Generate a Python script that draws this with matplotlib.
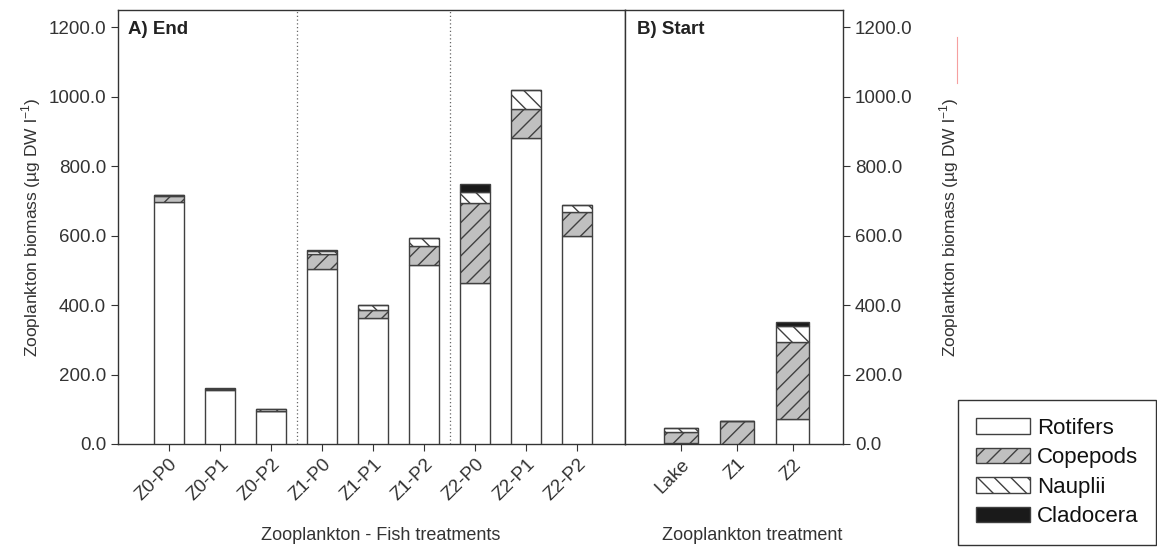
import matplotlib
matplotlib.use("Agg")
import matplotlib.pyplot as plt
from matplotlib.ticker import FormatStrFormatter
from matplotlib.lines import Line2D
import numpy as np

plt.rcParams['font.family'] = ['Liberation Sans', 'DejaVu Sans']
plt.rcParams['mathtext.fontset'] = 'custom'
plt.rcParams['mathtext.rm'] = 'Liberation Sans'
plt.rcParams['hatch.linewidth'] = 1.0

# Panel A: end of experiment
treat_a = ['Z0-P0', 'Z0-P1', 'Z0-P2', 'Z1-P0', 'Z1-P1', 'Z1-P2', 'Z2-P0', 'Z2-P1', 'Z2-P2']
rot_a = [698, 156, 94, 505, 363, 516, 464, 881, 598]
cop_a = [17, 2, 2, 43, 22, 53, 229, 85, 70]
nau_a = [3, 1, 4, 8, 14, 25, 33, 53, 19]
cla_a = [0, 2, 0, 2, 0, 0, 24, 0, 0]

# Panel B: start of experiment
treat_b = ['Lake', 'Z1', 'Z2']
rot_b = [2, 0, 72]
cop_b = [32, 66, 222]
nau_b = [12, 1, 46]
cla_b = [0, 0, 11]

groups = ['Rotifers', 'Copepods', 'Nauplii', 'Cladocera']
fills = ['white', '#c0c0c0', 'white', '#1a1a1a']
hatches = [None, '//', '\\\\', None]
edge = '#404040'
txt = '#333333'

fig = plt.figure(figsize=(11.57, 5.48), dpi=100)
axA = fig.add_axes([118/1157, 1-444/548, (625-118)/1157, 434/548])
axB = fig.add_axes([625/1157, 1-444/548, (843-625)/1157, 434/548])


def stack(ax, data, width):
    x = np.arange(1, len(data[0]) + 1)
    bottom = np.zeros(len(x))
    handles = []
    for vals, fc, h, lab in zip(data, fills, hatches, groups):
        b = ax.bar(x, vals, width, bottom=bottom, color=fc, edgecolor=edge,
                   hatch=h, linewidth=1.0, label=lab, zorder=3)
        bottom += np.array(vals)
        handles.append(b)
    return x, handles


xa, handles = stack(axA, [rot_a, cop_a, nau_a, cla_a], 0.59)
xb, _ = stack(axB, [rot_b, cop_b, nau_b, cla_b], 0.6)

for xs in (3.5, 6.5):
    axA.axvline(xs, color='#666666', linestyle=(0, (1, 2)), linewidth=0.9, zorder=1)

axA.set_xlim(0, 9.94)
axB.set_xlim(0, 3.9)
for ax in (axA, axB):
    ax.set_ylim(0, 1250)
    ax.set_yticks(np.arange(0, 1201, 200))
    ax.yaxis.set_major_formatter(FormatStrFormatter('%.1f'))
    for s in ax.spines.values():
        s.set_color(txt)
        s.set_linewidth(1.0)
    ax.tick_params(direction='out', length=5, color=txt, labelcolor=txt,
                   labelsize=13.5)

axA.set_xticks(xa)
axA.set_xticklabels(treat_a, rotation=45, ha='right', rotation_mode='anchor')
axB.set_xticks(xb)
axB.set_xticklabels(treat_b, rotation=45, ha='right', rotation_mode='anchor')
axA.tick_params(axis='y', right=False)
axB.tick_params(axis='y', left=False, labelleft=False, right=True, labelright=True)

ylab = 'Zooplankton biomass (µg DW l$^{-1}$)'
axA.set_ylabel(ylab, fontsize=12.5, color=txt, labelpad=4)
axB.yaxis.set_label_position('right')
axB.set_ylabel(ylab, fontsize=12.5, color=txt, rotation=90, labelpad=18)

axA.text(0.02, 0.955, 'A) End', transform=axA.transAxes, fontsize=13.5,
         fontweight='bold', color='#222222', va='center')
axB.text(0.055, 0.955, 'B) Start', transform=axB.transAxes, fontsize=13.5,
         fontweight='bold', color='#222222', va='center')

fig.text(381/1157, 1-535/548, 'Zooplankton - Fish treatments', fontsize=13,
         color=txt, ha='center', va='center')
fig.text(752/1157, 1-535/548, 'Zooplankton treatment', fontsize=13,
         color=txt, ha='center', va='center')

leg = fig.legend(handles=handles, labels=groups, loc='upper left',
                 bbox_to_anchor=(958/1157, 1-400/548), borderaxespad=0,
                 fontsize=16, handlelength=2.45, handleheight=0.68,
                 labelspacing=0.38, borderpad=0.8, handletextpad=0.3,
                 fancybox=False, frameon=True)
leg.get_frame().set_edgecolor('black')
leg.get_frame().set_linewidth(1.0)
for t in leg.get_texts():
    t.set_color('#111111')

fig.add_artist(Line2D([957/1157, 957/1157], [1-37/548, 1-83/548],
                      color='#f6a0a0', linewidth=0.8))

fig.savefig('out.png', dpi=100)
